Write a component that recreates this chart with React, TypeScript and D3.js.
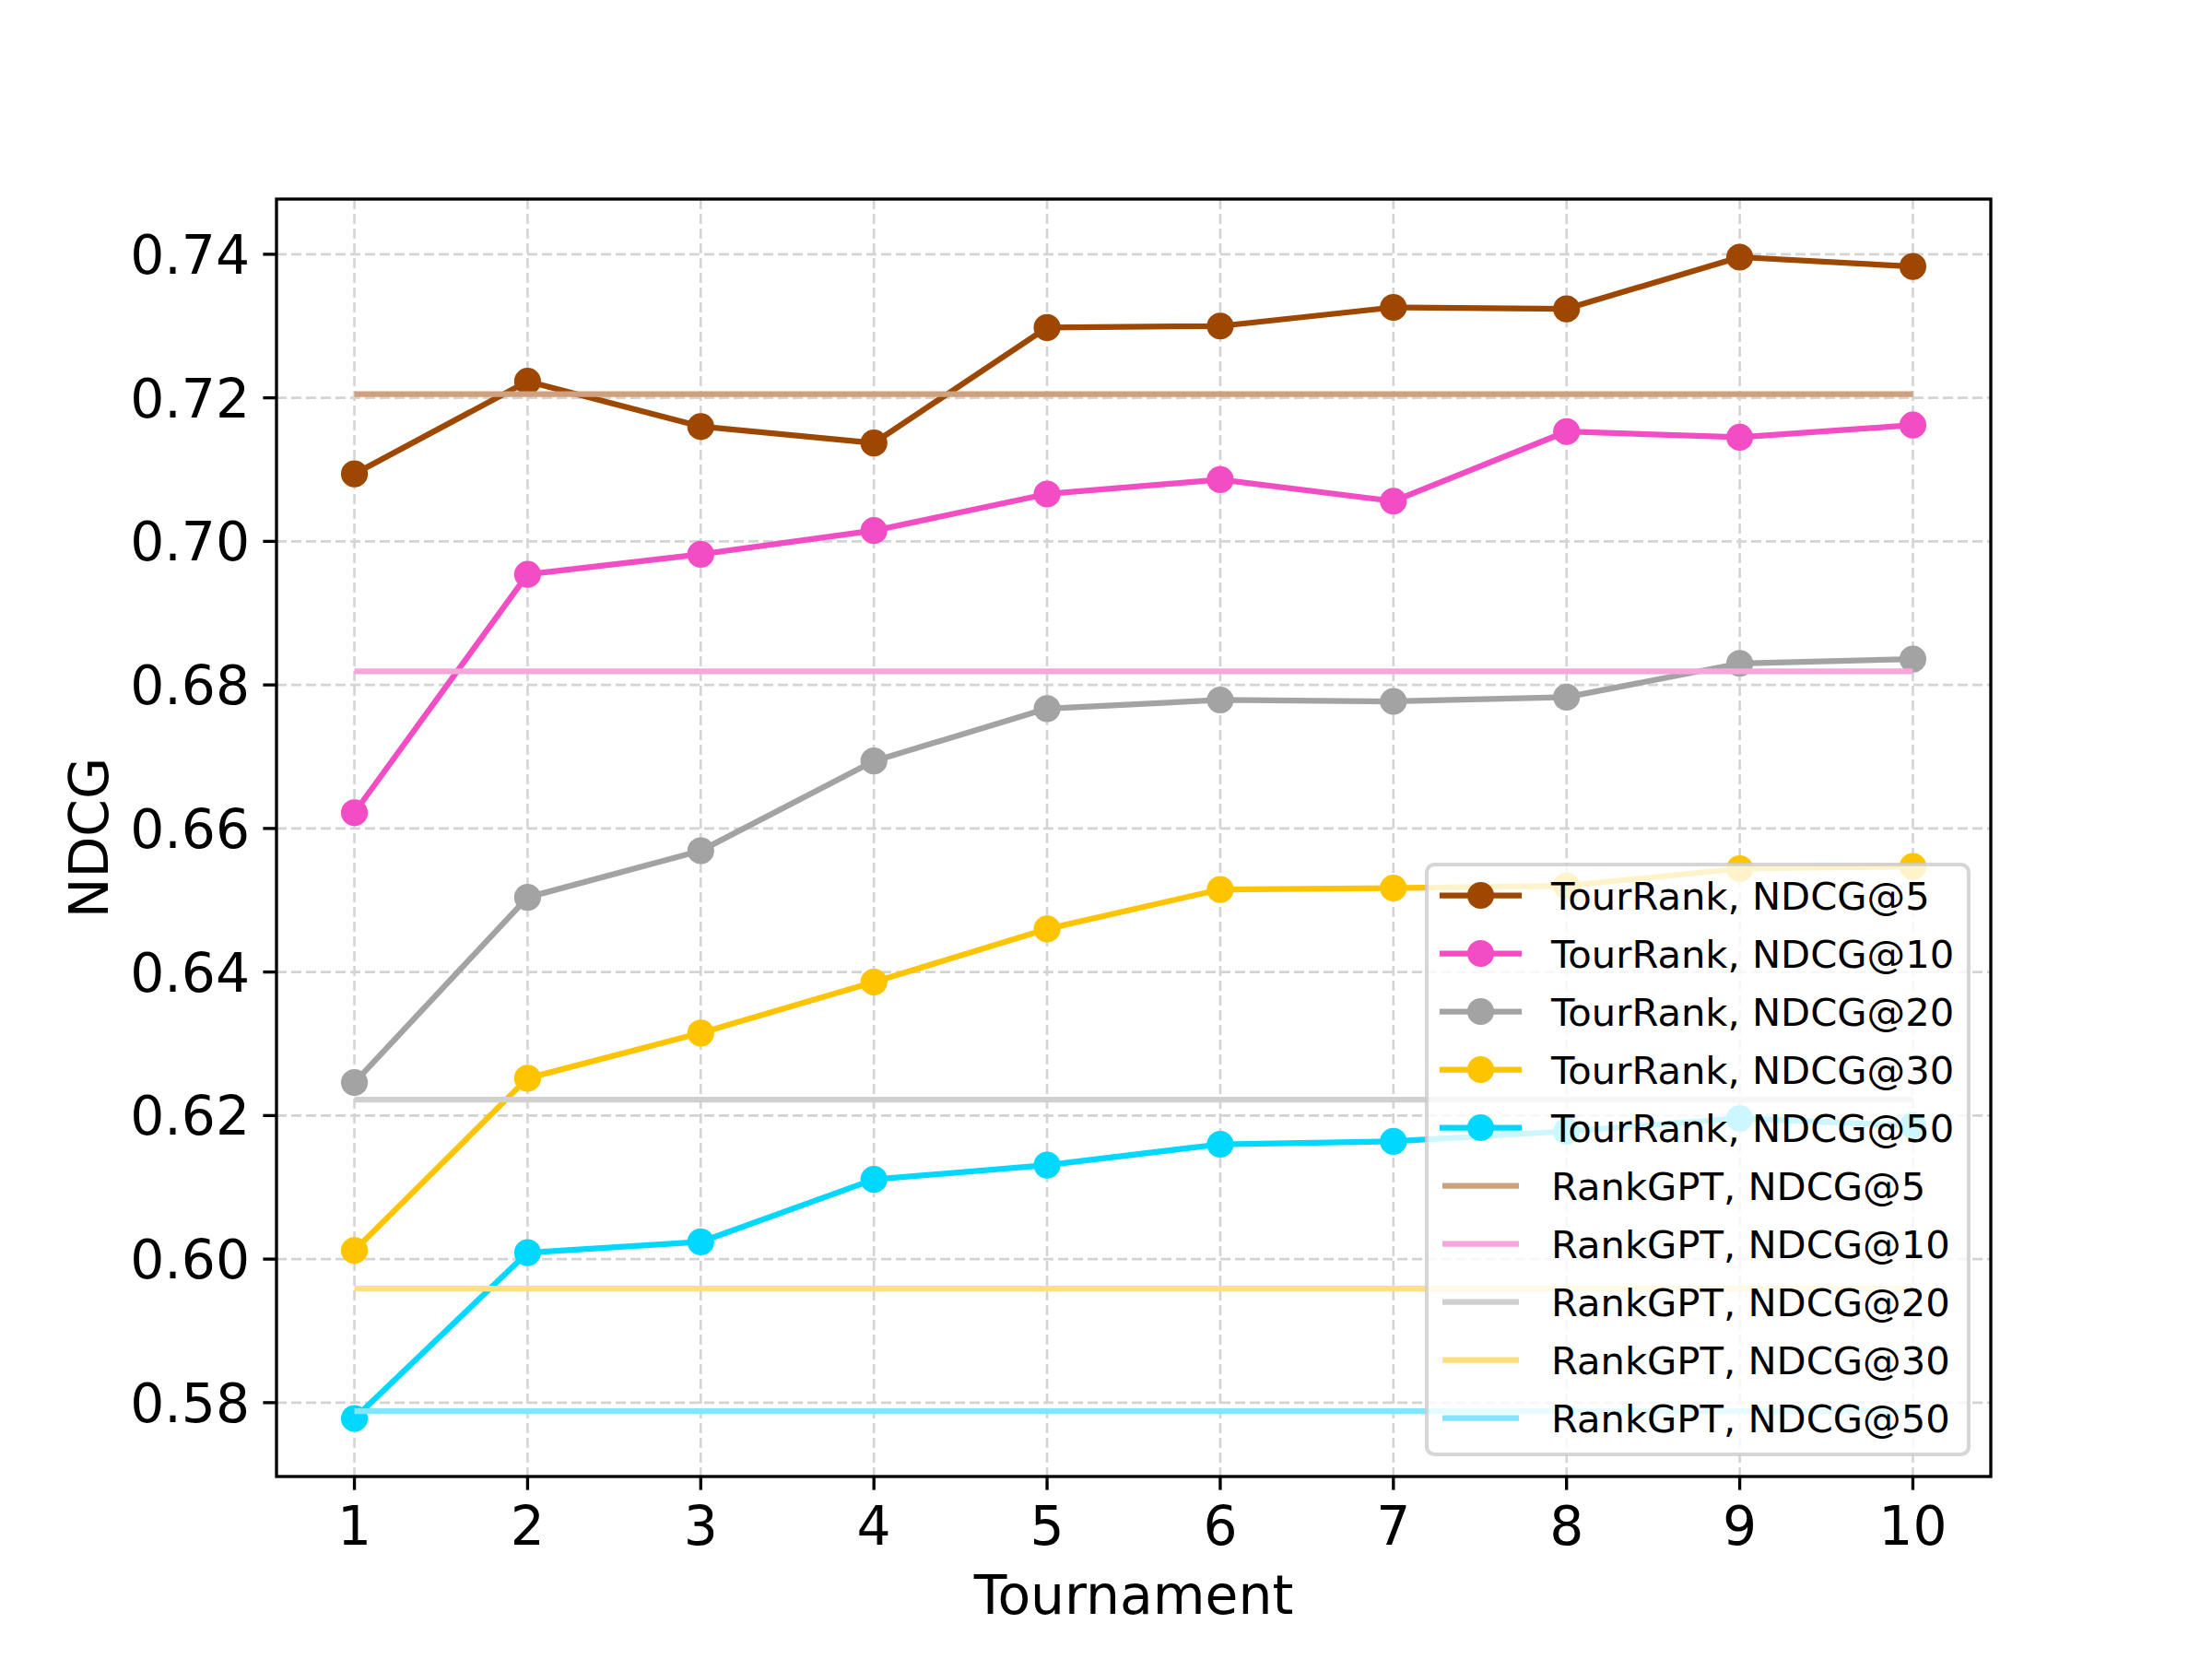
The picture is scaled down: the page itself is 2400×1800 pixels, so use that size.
import React from "react";
import * as d3 from "d3";

const tournaments = [1, 2, 3, 4, 5, 6, 7, 8, 9, 10];
const tourRank5 = [0.7094, 0.7223, 0.7160, 0.7137, 0.7298, 0.7300, 0.7326, 0.7324, 0.7396, 0.7383];
const tourRank10 = [0.6622, 0.6954, 0.6982, 0.7015, 0.7066, 0.7086, 0.7056, 0.7153, 0.7145, 0.7162];
const tourRank20 = [0.6246, 0.6504, 0.6569, 0.6694, 0.6767, 0.6779, 0.6777, 0.6783, 0.6830, 0.6836];
const tourRank30 = [0.6012, 0.6252, 0.6315, 0.6386, 0.6460, 0.6515, 0.6517, 0.6520, 0.6544, 0.6547];
const tourRank50 = [0.5778, 0.6009, 0.6024, 0.6111, 0.6131, 0.6160, 0.6164, 0.6178, 0.6196, 0.6186];
const rankGPT = [0.7205, 0.6819, 0.6222, 0.5959, 0.5788];
const metricLabels = ["NDCG@5", "NDCG@10", "NDCG@20", "NDCG@30", "NDCG@50"];
const tourColors = ["#9e4700", "#f24dc4", "#a3a3a3", "#ffc400", "#00d8ff"];
const gptColors = ["#cea07d", "#f7a6dc", "#d0d0d0", "#ffdf80", "#7fe8ff"];
const yTicks = [0.58, 0.6, 0.62, 0.64, 0.66, 0.68, 0.7, 0.72, 0.74];

const W = 2400, H = 1800;
const L = 300, R = 2160, T = 216, B = 1602;
const FONT = "DejaVu Sans";

export default function App() {
  const tourSeries = [tourRank5, tourRank10, tourRank20, tourRank30, tourRank50];
  const all = tourSeries.flat().concat(rankGPT);
  const lo = d3.min(all)!, hi = d3.max(all)!;
  const m = (hi - lo) * 0.05;
  const x = d3.scaleLinear().domain([0.55, 10.45]).range([L, R]);
  const y = d3.scaleLinear().domain([lo - m, hi + m]).range([B, T]);
  const line = d3
    .line<number>()
    .x((_, i) => x(tournaments[i]))
    .y((d) => y(d));

  const legendItems = [
    ...metricLabels.map((l, i) => ({ label: `TourRank, ${l}`, color: tourColors[i], marker: true })),
    ...metricLabels.map((l, i) => ({ label: `RankGPT, ${l}`, color: gptColors[i], marker: false })),
  ];
  const legX = 1548, legY = 938, legW = 588, legH = 640;
  const row0 = 971.5, rowStep = 63;

  return (
    <svg
      width={W}
      height={H}
      style={{ position: "absolute", left: 0, top: 0, background: "#fff" }}
      fontFamily={FONT}
    >
      <rect x={0} y={0} width={W} height={H} fill="#fff" />
      <defs>
        <clipPath id="plotclip">
          <rect x={L} y={T} width={R - L} height={B - T} />
        </clipPath>
      </defs>
      {/* grid */}
      <g stroke="#d4d4d4" strokeWidth={2.6} strokeDasharray="11,5">
        {tournaments.map((t) => (
          <line key={"gx" + t} x1={x(t)} x2={x(t)} y1={T} y2={B} />
        ))}
        {yTicks.map((v) => (
          <line key={"gy" + v} x1={L} x2={R} y1={y(v)} y2={y(v)} />
        ))}
      </g>
      <g clipPath="url(#plotclip)">
        {tourSeries.map((s, i) => (
          <g key={"s" + i}>
            <path d={line(s)!} fill="none" stroke={tourColors[i]} strokeWidth={6.25} strokeLinejoin="round" />
            {s.map((v, j) => (
              <circle key={j} cx={x(tournaments[j])} cy={y(v)} r={14.6} fill={tourColors[i]} />
            ))}
          </g>
        ))}
        {rankGPT.map((v, i) => (
          <line
            key={"g" + i}
            x1={x(tournaments[0])}
            x2={x(tournaments[tournaments.length - 1])}
            y1={y(v)}
            y2={y(v)}
            stroke={gptColors[i]}
            strokeWidth={6.25}
          />
        ))}
      </g>
      {/* spines */}
      <rect x={L} y={T} width={R - L} height={B - T} fill="none" stroke="#000" strokeWidth={3.33} />
      {/* x ticks */}
      {tournaments.map((t) => (
        <g key={"xt" + t}>
          <line x1={x(t)} x2={x(t)} y1={B} y2={B + 14.6} stroke="#000" strokeWidth={3.33} />
          <text x={x(t)} y={1676} textAnchor="middle" fontSize={58.33} fill="#000">
            {t}
          </text>
        </g>
      ))}
      {/* y ticks */}
      {yTicks.map((v) => (
        <g key={"yt" + v}>
          <line x1={L - 14.6} x2={L} y1={y(v)} y2={y(v)} stroke="#000" strokeWidth={3.33} />
          <text x={271} y={y(v) + 21} textAnchor="end" fontSize={58.33} fill="#000">
            {v.toFixed(2)}
          </text>
        </g>
      ))}
      <text x={(L + R) / 2} y={1751} textAnchor="middle" fontSize={58.33} fill="#000">
        Tournament
      </text>
      <text
        transform={`translate(117, ${(T + B) / 2}) rotate(-90)`}
        textAnchor="middle"
        fontSize={58.33}
        fill="#000"
      >
        NDCG
      </text>
      {/* legend */}
      <rect
        x={legX}
        y={legY}
        width={legW}
        height={legH}
        rx={8.3}
        ry={8.3}
        fill="#fff"
        fillOpacity={0.8}
        stroke="#cccccc"
        strokeOpacity={0.8}
        strokeWidth={4.17}
      />
      {legendItems.map((it, i) => {
        const cy = row0 + i * rowStep;
        return (
          <g key={"lg" + i}>
            {it.marker ? (
              <>
                <line x1={1565} x2={1648} y1={cy} y2={cy} stroke={it.color} strokeWidth={6.25} strokeLinecap="square" />
                <circle cx={1606.5} cy={cy} r={14.6} fill={it.color} />
              </>
            ) : (
              <line x1={1565} x2={1648} y1={cy} y2={cy} stroke={it.color} strokeWidth={6.25} />
            )}
            <text x={1683} y={cy + 15} fontSize={41.67} fill="#000">
              {it.label}
            </text>
          </g>
        );
      })}
    </svg>
  );
}
